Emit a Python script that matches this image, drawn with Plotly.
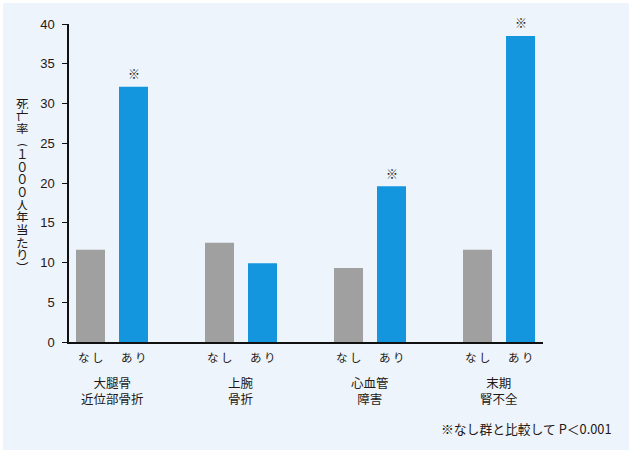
import plotly.graph_objects as go

categories = ["大腿骨<br>近位部骨折", "上腕<br>骨折", "心血管<br>障害", "末期<br>腎不全"]
cat_keys = ["大腿骨近位部骨折", "上腕骨折", "心血管障害", "末期腎不全"]
none_values = [11.6, 12.5, 9.3, 11.6]
with_values = [32.1, 9.9, 19.6, 38.5]
sig_marks = ["※", "", "※", "※"]
sub_labels = ["なし", "あり"]
y_ticks = [0, 5, 10, 15, 20, 25, 30, 35, 40]
y_title_chars = ["死", "亡", "率", "︵", "１", "０", "０", "０", "人", "年", "当", "た", "り", "︶"]
footnote = "※なし群と比較して P＜0.001"

GRAY = "#A0A0A0"
BLUE = "#1496DF"
BG = "#EEF4FB"
TXT = "#231815"
FONT = "Liberation Sans, Noto Sans CJK JP, sans-serif"
JFONT = "Noto Sans CJK JP, sans-serif"

W, H = 632, 454
ML, MR, MT, MB = 69, 89, 24, 112
PW, PH = W - ML - MR, H - MT - MB

fig = go.Figure()
fig.add_trace(go.Bar(x=cat_keys, y=none_values, marker_color=GRAY, marker_line_width=0, name="なし"))
fig.add_trace(go.Bar(x=cat_keys, y=with_values, marker_color=BLUE, marker_line_width=0, name="あり"))

annotations = []
slot = 43  # px offset between bar centers
for i, key in enumerate(cat_keys):
    for j, lab in enumerate(sub_labels):
        annotations.append(dict(x=key, xref="x", y=0, yref="y", yshift=-15,
                                xshift=(-slot / 2 if j == 0 else slot / 2),
                                text=lab.replace("", " ").strip(), showarrow=False,
                                font=dict(family=JFONT, size=11.5, color=TXT)))
    annotations.append(dict(x=key, xref="x", y=0, yref="y", yshift=-48,
                            text=categories[i], showarrow=False,
                            font=dict(family=JFONT, size=12.5, color=TXT)))
    if sig_marks[i]:
        annotations.append(dict(x=key, xref="x", y=with_values[i], yref="y",
                                xshift=slot / 2, yshift=13,
                                text=sig_marks[i], showarrow=False,
                                font=dict(family=JFONT, size=12, color=TXT)))

# vertical y-axis title
top_c, step = 102.5, 12.65
for k, ch in enumerate(y_title_chars):
    py = top_c + k * step
    annotations.append(dict(x=(22 - ML) / PW, xref="paper",
                            y=(H - MB - py) / PH, yref="paper",
                            text=ch, showarrow=False, xanchor="center", yanchor="middle",
                            height=12, borderpad=0,
                            font=dict(family=JFONT, size=12.5, color=TXT)))

annotations.append(dict(x=(614 - ML) / PW, xref="paper", y=(H - MB - 428) / PH, yref="paper",
                        text=footnote, showarrow=False, xanchor="right", yanchor="middle",
                        font=dict(family=JFONT, size=12.8, color=TXT)))

fig.update_layout(
    width=W, height=H,
    margin=dict(l=ML, r=MR, t=MT, b=MB, pad=0),
    paper_bgcolor="white",
    plot_bgcolor="rgba(0,0,0,0)",
    barmode="group", bargap=1 / 3, bargroupgap=0.3256,
    showlegend=False,
    annotations=annotations,
    shapes=[dict(type="rect", xref="paper", yref="paper", layer="below",
                 x0=(3 - ML) / PW, x1=(629 - ML) / PW,
                 y0=(H - MB - 450) / PH, y1=(H - MB - 3) / PH,
                 fillcolor=BG, line=dict(width=0))],
    xaxis=dict(range=[-1 / 3, 3.341], showticklabels=False, ticks="",
               showline=True, linecolor="#111", linewidth=1.5, showgrid=False,
               zeroline=False, fixedrange=True),
    yaxis=dict(range=[0, 40], tickvals=y_ticks, ticks="outside", ticklen=5,
               tickwidth=1.2, tickcolor="#111", showline=True, linecolor="#111",
               linewidth=1.5, showgrid=False, zeroline=False, ticklabelstandoff=5,
               tickfont=dict(family=FONT, size=13, color=TXT)),
)

fig.write_html("out.html", config={"displayModeBar": False},
               post_script="document.body.style.margin='0';document.body.style.overflow='hidden';")
